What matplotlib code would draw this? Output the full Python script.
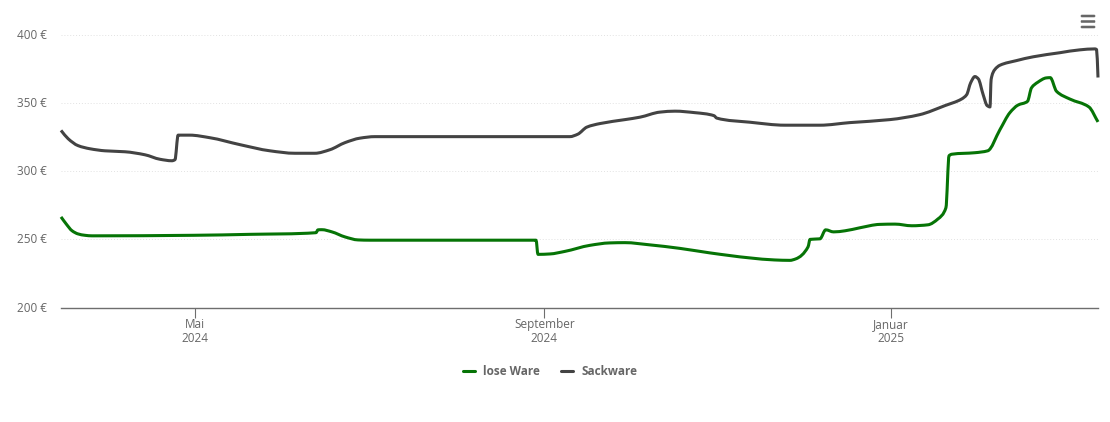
import pandas as pd
import matplotlib
matplotlib.use("Agg")
import matplotlib.pyplot as plt
import matplotlib.dates as mdates
from matplotlib.lines import Line2D
from matplotlib.patches import FancyBboxPatch, PathPatch
from matplotlib.path import Path
from matplotlib.transforms import ScaledTranslation

plt.rcParams['font.family'] = ['Open Sans', 'DejaVu Sans']

start = pd.Timestamp("2024-03-15")

# days since start, price in euro
lose_days = [0, 1.8, 3.9, 6, 8.4, 10.9, 46.8, 66.5, 89.7, 90.4, 91.8, 95.3, 99.9, 104.5, 108.7,
             167.1, 167.8, 172, 177.3, 186, 193, 198.4, 207, 217.7, 228.2, 242.3, 251, 256.4,
             258.5, 262.8, 263.5, 267, 269, 271.8, 275.8, 281, 288, 293.4, 299.3, 305, 308.5,
             311.3, 312.4, 313.4, 321.5, 326, 330.3, 333.8, 336.6, 340, 341.4, 343.6, 346.6,
             348, 350.2, 354.9, 361.6, 364.8]
lose_values = [266.5, 261.4, 256.3, 254, 253, 252.6, 253, 253.7, 254.9, 257, 257.1, 255.5, 251.8,
               249.6, 249.4, 249.4, 239, 239.3, 241.2, 245.6, 247.4, 247.6, 246, 243.4, 240.1,
               236.4, 234.9, 234.6, 235.7, 244.5, 250, 250.4, 257, 255.5, 256.3, 258.5, 261,
               261.2, 260, 260.7, 265, 273.2, 311.4, 312.5, 313.6, 315, 330.5, 343, 348.5, 351.3,
               361.2, 365.3, 368.5, 368.7, 358.7, 353, 347.2, 336.2]

sack_days = [0, 2.5, 6, 10.2, 15.5, 22.5, 29.5, 34.8, 39, 40.1, 41.2, 45.3, 52.4, 63, 73.5, 82.3,
             89.3, 94.6, 99.9, 105.2, 110.4, 179, 181.8, 185, 189.6, 198.4, 203.7, 210.7, 216,
             223, 229.7, 230.7, 242.3, 254.7, 267, 277.5, 291.6, 302, 311, 316.8, 318.6, 320,
             321.5, 322.7, 324.4, 325.8, 326.8, 327.2, 328.5, 330.3, 336.1, 342, 351.4, 358.4,
             363.7, 364.3, 364.8]
sack_values = [330, 323.9, 318.8, 316.5, 315, 314.3, 312.1, 308.8, 307.7, 308.5, 326.5, 326.5,
               324.6, 319.5, 315, 313.2, 313.2, 315.8, 321, 324.3, 325.4, 325.4, 327.2, 332.4,
               335, 337.9, 339.7, 343.4, 344.1, 343, 340.8, 339, 336, 333.8, 333.8, 335.7, 337.9,
               341.5, 348.2, 353, 356.2, 364.9, 369.5, 367.8, 356.2, 348.2, 347.2, 367.3, 374.6,
               377.8, 381.2, 384, 387, 389.1, 389.8, 389.3, 368.8]

y_ticks = [200, 250, 300, 350, 400]
x_ticks = ["2024-05-01", "2024-09-01", "2025-01-01"]
x_labels = ["Mai\n2024", "September\n2024", "Januar\n2025"]


# Smooth path through the points (monotone tangents, so no overshoot at the jumps)
def smooth_path(xs, ys):
    n = len(xs)
    h = [xs[i + 1] - xs[i] for i in range(n - 1)]
    s = [(ys[i + 1] - ys[i]) / h[i] for i in range(n - 1)]
    m = [s[0]] + [0.0] * (n - 2) + [s[-1]]
    for i in range(1, n - 1):
        if s[i - 1] * s[i] > 0:
            w1 = 2 * h[i] + h[i - 1]
            w2 = h[i] + 2 * h[i - 1]
            m[i] = (w1 + w2) / (w1 / s[i - 1] + w2 / s[i])
    verts = [(xs[0], ys[0])]
    codes = [Path.MOVETO]
    for i in range(n - 1):
        verts += [(xs[i] + h[i] / 3, ys[i] + m[i] * h[i] / 3),
                  (xs[i + 1] - h[i] / 3, ys[i + 1] - m[i + 1] * h[i] / 3),
                  (xs[i + 1], ys[i + 1])]
        codes += [Path.CURVE4] * 3
    return Path(verts, codes)


lose_dates = mdates.date2num(start + pd.to_timedelta(lose_days, unit="D"))
sack_dates = mdates.date2num(start + pd.to_timedelta(sack_days, unit="D"))

W, H = 1110, 422
fig = plt.figure(figsize=(W / 100, H / 100), dpi=100)
ax = fig.add_axes([61 / W, 1 - 307.5 / H, (1098 - 61) / W, (307.5 - 35) / H])
ax.xaxis_date()

for dates, values, color in [(lose_dates, lose_values, "#067406"), (sack_dates, sack_values, "#434343")]:
    ax.add_patch(PathPatch(smooth_path(list(dates), values), fc="none", ec=color, lw=2.2,
                           joinstyle="round", capstyle="butt", zorder=3, clip_on=False))

ax.set_xlim(start, start + pd.Timedelta(days=364.8))
ax.set_ylim(200, 400)
ax.set_yticks(y_ticks)
ax.set_yticklabels([f"{v} €" for v in y_ticks])
ax.set_xticks(pd.to_datetime(x_ticks))
ax.set_xticklabels(x_labels, linespacing=1.15)

# Dotted horizontal grid
ax.grid(axis="y", color="#e2e2e2", lw=0.7, ls=(0, (1, 2)))
ax.set_axisbelow(True)
for side in ["top", "left", "right"]:
    ax.spines[side].set_visible(False)
ax.spines["bottom"].set_color("#6e6e6e")
ax.spines["bottom"].set_linewidth(1.0)
ax.tick_params(axis="y", length=0, pad=10.5, labelsize=8.5, labelcolor="#666666")
ax.tick_params(axis="x", length=7, width=0.8, color="#6e6e6e", pad=0.5,
               labelsize=8.5, labelcolor="#666666")

# y labels sit one pixel above their grid line
nudge = ScaledTranslation(0, 1 / 100, fig.dpi_scale_trans)
for label in ax.get_yticklabels():
    label.set_transform(label.get_transform() + nudge)

# Legend
handles = [Line2D([], [], color="#067406", lw=2.2, solid_capstyle="round"),
           Line2D([], [], color="#434343", lw=2.2, solid_capstyle="round")]
leg = fig.legend(handles, ["lose Ware", "Sackware"], loc="center",
                 bbox_to_anchor=(550 / W, 1 - 371.5 / H), ncol=2, frameon=False,
                 handlelength=1.05, handletextpad=0.7, columnspacing=1.75,
                 prop={"size": 8.5, "weight": "bold"})
for text in leg.get_texts():
    text.set_color("#666666")

# Menu icon
for y in [16, 21.5, 27]:
    fig.add_artist(FancyBboxPatch((1081 / W, 1 - (y + 1) / H), 14 / W, 2 / H,
                                  boxstyle="round,pad=0,rounding_size=0.001",
                                  transform=fig.transFigure, fc="#666666", ec="#666666", lw=0.4))

fig.savefig("out.png", dpi=100)
